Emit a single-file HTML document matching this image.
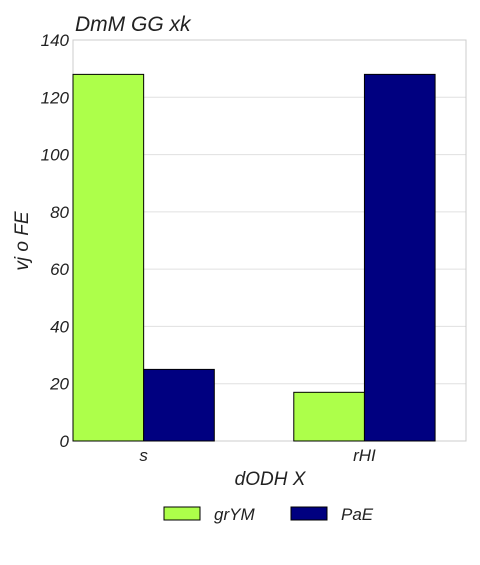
<!DOCTYPE html>
<html><head><meta charset="utf-8"><style>
body{margin:0;background:#fff;}
svg text{font-family:"Liberation Sans",sans-serif;font-style:italic;fill:#222;}
</style></head><body>
<svg id="c" width="480" height="560"></svg>
<script>
const categories=["s","rHI"];
const seriesNames=["grYM","PaE"];
const seriesA=[128,17];
const seriesB=[25,128];
const yTicks=[0,20,40,60,80,100,120,140];
const colors=["#adff4a","#000080"];
const svg=document.getElementById('c');
const NS="http://www.w3.org/2000/svg";
const L=73,R=466,T=40,B=441;
const yMin=0,yMax=140,xMin=-0.32,xMax=1.46,bw=0.32;
function y(v){return B-(v-yMin)/(yMax-yMin)*(B-T);}
function x(v){return L+(v-xMin)/(xMax-xMin)*(R-L);}
function mk(t,a,p){const e=document.createElementNS(NS,t);for(const k in a)e.setAttribute(k,a[k]);(p||svg).appendChild(e);return e;}
yTicks.forEach(v=>{
 const g=mk('line',{x1:L,x2:R,y1:y(v),y2:y(v),stroke:'#e0e0e0','stroke-width':1});
 
 
 const t=mk('text',{x:L-4,y:y(v)+6,'text-anchor':'end','font-size':17});
 t.textContent=v;
 
 
});
const fr=mk('rect',{x:L,y:T,width:R-L,height:B-T,fill:'none',stroke:'#ccc'});


[seriesA,seriesB].forEach((s,si)=>{
 s.forEach((v,i)=>{
  const x0=x(i+(si-1)*bw);
  const r=mk('rect',{x:x0,y:y(v),width:x(bw)-x(0),height:y(0)-y(v),fill:colors[si],stroke:'#000','stroke-width':1});
  
  
 });
});
categories.forEach((c,i)=>{
 const t=mk('text',{x:x(i),y:B+20,'text-anchor':'middle','font-size':17});
 t.textContent=c;
 
 
});
const tt=mk('text',{x:75,y:31,'font-size':21});tt.textContent="DmM GG xk";


const xt=mk('text',{x:270,y:485,'text-anchor':'middle','font-size':19});xt.textContent="dODH X";


const yt=mk('text',{x:0,y:0,'text-anchor':'middle','font-size':19,transform:'translate(28,241) rotate(-90)'});yt.textContent="vj o FE";


const lx=[164,291];
seriesNames.forEach((n,i)=>{
 const r=mk('rect',{x:lx[i],y:507,width:36,height:13,fill:colors[i],stroke:'#000'});
 
 
 const t=mk('text',{x:lx[i]+50,y:520,'font-size':17});t.textContent=n;
 
 
});
</script>
</body></html>
